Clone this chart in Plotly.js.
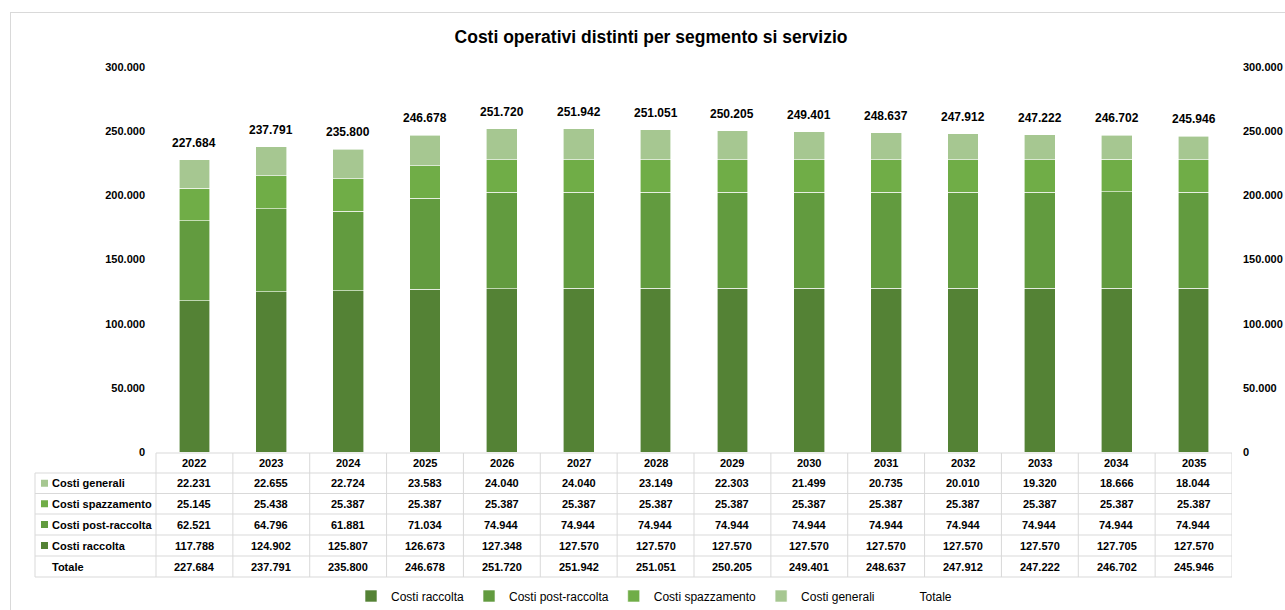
<!DOCTYPE html>
<html>
<head>
<meta charset="utf-8">
<script src="https://cdn.plot.ly/plotly-3.0.1.min.js"></script>
<style>html,body{margin:0;padding:0;background:#fff;}#chart{width:1285px;height:610px;}</style>
</head>
<body>
<div id="chart"></div>
<script>
const years = ['2022','2023','2024','2025','2026','2027','2028','2029','2030','2031','2032','2033','2034','2035'];
const costiRaccolta = [117788,124902,125807,126673,127348,127570,127570,127570,127570,127570,127570,127570,127705,127570];
const costiPostRaccolta = [62521,64796,61881,71034,74944,74944,74944,74944,74944,74944,74944,74944,74944,74944];
const costiSpazzamento = [25145,25438,25387,25387,25387,25387,25387,25387,25387,25387,25387,25387,25387,25387];
const costiGenerali = [22231,22655,22724,23583,24040,24040,23149,22303,21499,20735,20010,19320,18666,18044];
const totale = [227684,237791,235800,246678,251720,251942,251051,250205,249401,248637,247912,247222,246702,245946];
const seriesNames = ['Costi raccolta','Costi post-raccolta','Costi spazzamento','Costi generali','Totale'];
const colors = ['#548235','#629B3F','#70AD47','#A6C791'];

// pixel helpers (layout only)
const L = 156, R = 1232, T = 67, B = 452, H = B - T;
const px = p => (p - L) / (R - L);
const py = p => (B - p) / H;
const fmt = n => String(Math.round(n)).replace(/\B(?=(\d{3})+(?!\d))/g, '.');
const FONT = 'Liberation Sans, Arial, sans-serif';

const serieData = [costiRaccolta, costiPostRaccolta, costiSpazzamento, costiGenerali];
const traces = serieData.map((d, k) => ({
  type: 'bar', x: years, y: d, name: seriesNames[k],
  marker: {color: colors[k], line: {color: 'rgba(255,255,255,0.8)', width: 0.75}},
  hoverinfo: 'x+y+name'
}));
traces.push({
  type: 'scatter', mode: 'lines', x: years, y: totale, name: seriesNames[4], yaxis: 'y2',
  line: {color: 'rgba(0,0,0,0)', width: 0}, hoverinfo: 'skip'
});

const annotations = [];
const shapes = [];
// total labels above bars (x given as category index)
years.forEach((yr, i) => {
  annotations.push({x: i, y: totale[i], xref: 'x', yref: 'y', text: fmt(totale[i]), showarrow: false,
    xanchor: 'center', yanchor: 'middle', yshift: 17, font: {family: FONT, size: 12, color: '#000', weight: 'bold'}});
});

// table
const gridColor = '#d9d9d9';
const rowEdges = [453, 473, 493.5, 514, 535, 556, 577];
const tableRows = [
  {label: seriesNames[3], data: costiGenerali, color: colors[3]},
  {label: seriesNames[2], data: costiSpazzamento, color: colors[2]},
  {label: seriesNames[1], data: costiPostRaccolta, color: colors[1]},
  {label: seriesNames[0], data: costiRaccolta, color: colors[0]},
  {label: seriesNames[4], data: totale, color: null}
];
rowEdges.forEach((e, j) => {
  shapes.push({type: 'line', xref: 'paper', yref: 'paper', x0: px(j === 0 ? L : 35), x1: 1, y0: py(e), y1: py(e),
    line: {color: gridColor, width: 1}});
});
shapes.push({type: 'line', xref: 'paper', yref: 'paper', x0: px(35), x1: px(35), y0: py(rowEdges[1]), y1: py(rowEdges[6]), line: {color: gridColor, width: 1}});
shapes.push({type: 'line', xref: 'paper', yref: 'paper', x0: 0, x1: 0, y0: py(rowEdges[0]), y1: py(rowEdges[6]), line: {color: gridColor, width: 1}});
years.forEach((yr, i) => {
  shapes.push({type: 'line', xref: 'x', yref: 'paper', x0: i + 0.5, x1: i + 0.5, y0: py(rowEdges[0]), y1: py(rowEdges[6]), line: {color: gridColor, width: 1}});
});
const cellFont = {family: FONT, size: 11, color: '#000', weight: 'bold'};
years.forEach((yr, i) => {
  annotations.push({x: i, xref: 'x', yref: 'paper', y: py((rowEdges[0] + rowEdges[1]) / 2), text: yr, showarrow: false,
    xanchor: 'center', yanchor: 'middle', font: cellFont});
});
tableRows.forEach((row, r) => {
  const yc = (rowEdges[r + 1] + rowEdges[r + 2]) / 2;
  annotations.push({x: px(50), xref: 'paper', yref: 'paper', y: py(yc), text: row.label, showarrow: false,
    xanchor: 'left', yanchor: 'middle', font: cellFont});
  if (row.color) {
    shapes.push({type: 'rect', xref: 'paper', yref: 'paper', x0: px(41), x1: px(48), y0: py(yc + 3.5), y1: py(yc - 3.5),
      fillcolor: row.color, line: {width: 0}});
  }
  years.forEach((yr, i) => {
    annotations.push({x: i, xref: 'x', yref: 'paper', y: py(yc), text: fmt(row.data[i]), showarrow: false,
      xanchor: 'center', yanchor: 'middle', font: cellFont});
  });
});
// outer chart border
shapes.push({type: 'line', xref: 'paper', yref: 'paper', x0: px(10), x1: px(1290), y0: py(12.5), y1: py(12.5), line: {color: gridColor, width: 1}});
shapes.push({type: 'line', xref: 'paper', yref: 'paper', x0: px(10.5), x1: px(10.5), y0: py(12.5), y1: py(620), line: {color: gridColor, width: 1}});

const axisY = {
  range: [0, 300000], dtick: 50000, tickformat: ',d', showgrid: false, zeroline: false, showline: false,
  ticks: '', ticklabelstandoff: 10, fixedrange: true,
  tickfont: {family: FONT, size: 11, color: '#000', weight: 'bold'}
};

const layout = {
  width: 1285, height: 610,
  margin: {l: L, r: 1285 - R, t: T, b: 610 - B, pad: 0, autoexpand: false},
  paper_bgcolor: '#fff', plot_bgcolor: '#fff',
  separators: ',.',
  font: {family: FONT, color: '#000'},
  title: {text: 'Costi operativi distinti per segmento si servizio', xref: 'container', yref: 'container',
    x: 651 / 1285, y: 1 - 37 / 610, xanchor: 'center', yanchor: 'middle', automargin: false,
    font: {family: FONT, size: 17.5, color: '#000', weight: 'bold'}},
  barmode: 'stack', bargap: 0.6,
  xaxis: {type: 'category', range: [-0.5, 13.5], showticklabels: false, showgrid: false, zeroline: false,
    showline: false, ticks: '', fixedrange: true},
  yaxis: Object.assign({}, axisY, {side: 'left'}),
  yaxis2: Object.assign({}, axisY, {side: 'right', overlaying: 'y', matches: 'y'}),
  showlegend: true,
  legend: {orientation: 'h', x: px(654), xanchor: 'center', y: py(596), yanchor: 'middle', traceorder: 'normal',
    itemwidth: 30, tracegroupgap: 0, font: {family: FONT, size: 12, color: '#000'}, bgcolor: 'rgba(0,0,0,0)'},
  annotations: annotations,
  shapes: shapes
};

Plotly.newPlot('chart', traces, layout, {displayModeBar: false, staticPlot: true});
</script>
</body>
</html>
